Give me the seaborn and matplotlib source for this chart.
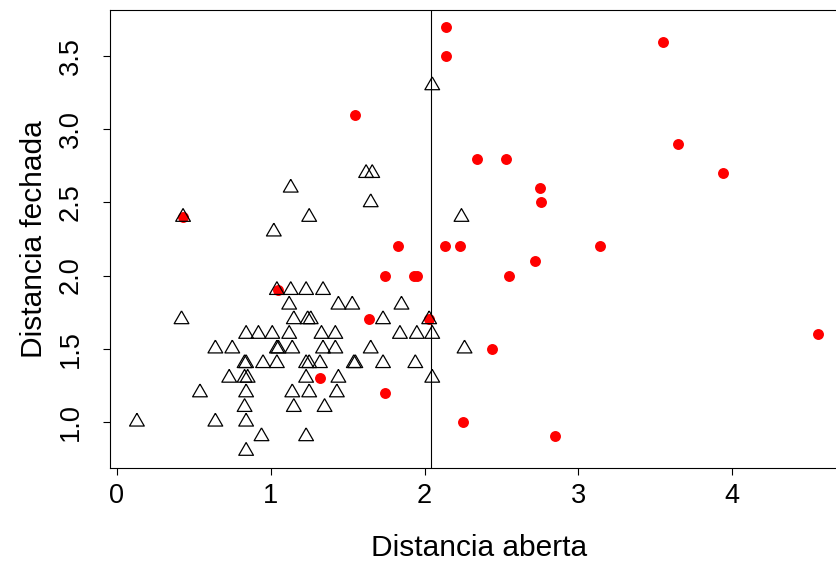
import matplotlib
matplotlib.use("Agg")
import matplotlib.pyplot as plt
import seaborn as sns

# Data
# red points (grupo 1)
red_x = [2.14, 2.14, 3.55, 1.55, 3.65, 2.34, 2.53, 3.94, 2.75, 2.76,
         0.43, 1.83, 2.13, 2.23, 3.14, 2.72, 1.74, 1.93, 1.95, 2.55,
         1.05, 1.64, 2.03, 4.56, 2.44, 1.32, 1.74, 2.25, 2.85]
red_y = [3.7, 3.5, 3.6, 3.1, 2.9, 2.8, 2.8, 2.7, 2.6, 2.5,
         2.4, 2.2, 2.2, 2.2, 2.2, 2.1, 2.0, 2.0, 2.0, 2.0,
         1.9, 1.7, 1.7, 1.6, 1.5, 1.3, 1.2, 1.0, 0.9]

# open triangles (grupo 2)
tri_x = [2.05,
         1.62, 1.66,
         1.13,
         1.65,
         0.43, 1.25, 2.24,
         1.02,
         1.04, 1.13, 1.23, 1.34,
         1.12, 1.44, 1.53, 1.85,
         0.42, 1.15, 1.24, 1.26, 1.73, 2.03,
         0.84, 0.92, 1.01, 1.12, 1.33, 1.42, 1.84, 1.95, 2.05,
         0.64, 0.75, 1.04, 1.05, 1.14, 1.34, 1.42, 1.65, 2.26,
         0.83, 0.84, 0.95, 1.04, 1.23, 1.25, 1.32, 1.54, 1.55, 1.73, 1.94,
         0.73, 0.83, 0.85, 1.23, 1.44, 2.05,
         0.54, 0.84, 1.14, 1.25, 1.43,
         0.83, 1.15, 1.35,
         0.13, 0.64, 0.84,
         0.94, 1.23,
         0.84]
tri_y = [3.3,
         2.7, 2.7,
         2.6,
         2.5,
         2.4, 2.4, 2.4,
         2.3,
         1.9, 1.9, 1.9, 1.9,
         1.8, 1.8, 1.8, 1.8,
         1.7, 1.7, 1.7, 1.7, 1.7, 1.7,
         1.6, 1.6, 1.6, 1.6, 1.6, 1.6, 1.6, 1.6, 1.6,
         1.5, 1.5, 1.5, 1.5, 1.5, 1.5, 1.5, 1.5, 1.5,
         1.4, 1.4, 1.4, 1.4, 1.4, 1.4, 1.4, 1.4, 1.4, 1.4, 1.4,
         1.3, 1.3, 1.3, 1.3, 1.3, 1.3,
         1.2, 1.2, 1.2, 1.2, 1.2,
         1.1, 1.1, 1.1,
         1.0, 1.0, 1.0,
         0.9, 0.9,
         0.8]

corte = 2.04
x_ticks = [0, 1, 2, 3, 4]
y_ticks = [1.0, 1.5, 2.0, 2.5, 3.0, 3.5]

sns.set_style("white")
plt.rcParams["font.family"] = ["Liberation Sans", "DejaVu Sans"]
plt.rcParams["text.color"] = "black"
plt.rcParams["axes.labelcolor"] = "black"
plt.rcParams["xtick.color"] = "black"
plt.rcParams["ytick.color"] = "black"

fig = plt.figure(figsize=(8.36, 5.61), dpi=100)
ax = fig.add_axes([110 / 836, 93 / 561, 736 / 836, 458 / 561])

# R pch=2 style triangle (equilateral, centred on centroid)
tri = [(0, 1), (-0.866, -0.5), (0.866, -0.5), (0, 1)]

sns.scatterplot(x=red_x, y=red_y, ax=ax, color="#ff0000", s=62,
                marker="o", linewidth=0, zorder=2)
sns.scatterplot(x=tri_x, y=tri_y, ax=ax, marker=tri, s=150,
                facecolors="none", edgecolor="black", linewidth=0.9, zorder=3)

ax.axvline(corte, color="black", lw=0.8, zorder=1)

ax.set_xlim(-0.045, 4.74)
ax.set_ylim(0.684, 3.816)
ax.set_xticks(x_ticks)
ax.set_xticklabels([str(t) for t in x_ticks])
ax.set_yticks(y_ticks)
ax.set_yticklabels([f"{t:.1f}" for t in y_ticks], rotation=90, va="center")

for s in ax.spines.values():
    s.set_color("black")
    s.set_linewidth(0.8)

ax.tick_params(axis="both", direction="out", length=5, width=0.8,
               color="black", labelcolor="black", labelsize=19.5,
               bottom=True, left=True)
ax.tick_params(axis="x", pad=6)
ax.tick_params(axis="y", pad=14)
ax.set_xlabel("Distancia aberta", fontsize=21.5)
ax.set_ylabel("Distancia fechada", fontsize=21.5)
ax.xaxis.set_label_coords((479 - 110) / 736, -(534 - 468) / 458)
ax.yaxis.set_label_coords(-(110 - 48) / 736, 0.5)

fig.savefig("out.png", dpi=100)
